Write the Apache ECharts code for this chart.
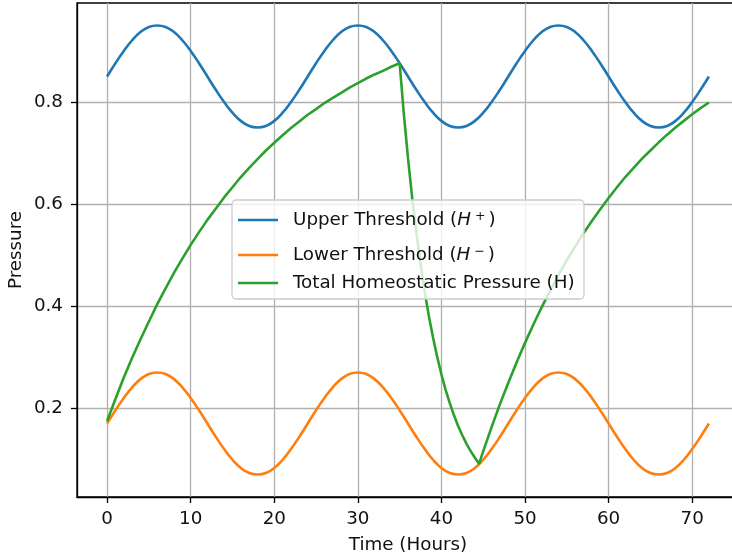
<!DOCTYPE html>
<html>
<head>
<meta charset="utf-8">
<script src="https://cdn.jsdelivr.net/npm/echarts@6/dist/echarts.min.js"></script>
<style>
  html, body { margin: 0; padding: 0; background: #fff; }
  #chart { width: 732px; height: 558px; }
</style>
</head>
<body>
<div id="chart"></div>
<script>
// ---- data ----
const xTicks = [0, 10, 20, 30, 40, 50, 60, 70];
const yTicks = [0.2, 0.4, 0.6, 0.8];

const thresholdHours = [
  0,1,2,3,4,5,6,7,8,9,10,11,12,13,14,15,16,17,18,19,20,21,22,23,
  24,25,26,27,28,29,30,31,32,33,34,35,36,37,38,39,40,41,42,43,44,45,46,47,
  48,49,50,51,52,53,54,55,56,57,58,59,60,61,62,63,64,65,66,67,68,69,70,71,72
];
const upperThreshold = [
  0.850,0.876,0.900,0.921,0.937,0.947,0.950,0.947,0.937,0.921,0.900,0.876,0.850,0.824,0.800,0.779,0.763,0.753,0.750,0.753,0.763,0.779,0.800,0.824,
  0.850,0.876,0.900,0.921,0.937,0.947,0.950,0.947,0.937,0.921,0.900,0.876,0.850,0.824,0.800,0.779,0.763,0.753,0.750,0.753,0.763,0.779,0.800,0.824,
  0.850,0.876,0.900,0.921,0.937,0.947,0.950,0.947,0.937,0.921,0.900,0.876,0.850,0.824,0.800,0.779,0.763,0.753,0.750,0.753,0.763,0.779,0.800,0.824,
  0.850
];
const lowerThreshold = [
  0.170,0.196,0.220,0.241,0.257,0.267,0.270,0.267,0.257,0.241,0.220,0.196,0.170,0.144,0.120,0.099,0.083,0.073,0.070,0.073,0.083,0.099,0.120,0.144,
  0.170,0.196,0.220,0.241,0.257,0.267,0.270,0.267,0.257,0.241,0.220,0.196,0.170,0.144,0.120,0.099,0.083,0.073,0.070,0.073,0.083,0.099,0.120,0.144,
  0.170,0.196,0.220,0.241,0.257,0.267,0.270,0.267,0.257,0.241,0.220,0.196,0.170,0.144,0.120,0.099,0.083,0.073,0.070,0.073,0.083,0.099,0.120,0.144,
  0.170
];
const pressureHours = [
  0,1,2,3,4,5,6,7,8,9,10,11,12,13,14,15,16,17,18,19,20,21,22,23,24,25,26,27,28,29,30,31,32,33,34,35,
  35.5,36,36.5,37,37.5,38,38.5,39,39.5,40,40.5,41,41.5,42,42.5,43,43.5,44,44.5,
  45,46,47,48,49,50,51,52,53,54,55,56,57,58,59,60,61,62,63,64,65,66,67,68,69,70,71,72
];
const totalPressure = [
  0.175,0.218,0.260,0.299,0.335,0.370,0.404,0.435,0.465,0.493,0.520,0.545,0.569,0.591,0.613,0.633,0.653,0.671,
  0.688,0.705,0.720,0.735,0.749,0.762,0.775,0.786,0.798,0.808,0.818,0.828,0.837,0.846,0.854,0.861,0.869,0.876,
  0.777,0.690,0.612,0.544,0.483,0.428,0.380,0.338,0.300,0.266,0.236,0.210,0.186,0.165,0.147,0.130,0.116,0.103,0.091,
  0.116,0.163,0.208,0.250,0.290,0.328,0.364,0.398,0.430,0.461,0.490,0.517,0.543,0.567,0.590,0.612,0.633,0.653,
  0.671,0.689,0.705,0.721,0.736,0.750,0.763,0.776,0.788,0.799
];
const seriesNames = ['Upper Threshold (H+)', 'Lower Threshold (H-)', 'Total Homeostatic Pressure (H)'];
const seriesColors = ['#1f77b4', '#ff7f0e', '#2ca02c'];

// ---- chart ----
const FONT = 'DejaVu Sans';
const FS = 18.3;
const TXT = '#111111';
const pairs = (xs, ys) => xs.map((x, i) => [x, ys[i]]);

const legendRich = {
  f: { fontFamily: FONT, fontSize: FS, color: TXT, padding: [0, 0, 0, 10] },
  t: { fontFamily: FONT, fontSize: FS, color: TXT },
  i: { fontFamily: FONT, fontSize: FS, color: TXT, fontStyle: 'italic', padding: [0, 2, 0, 0] },
  sp: { fontFamily: FONT, fontSize: 12.5, color: TXT, padding: [0, 3, 7, 2] }
};
const legendLabel = {
  [seriesNames[0]]: '{f|Upper Threshold (}{i|H}{sp|+}{t|)}',
  [seriesNames[1]]: '{f|Lower Threshold (}{i|H}{sp|\u2212}{t|)}',
  [seriesNames[2]]: '{f|Total Homeostatic Pressure (H)}'
};
const legendTops = [210, 245, 274];

function makeLegend(k) {
  return {
    show: true,
    data: [seriesNames[k]],
    left: 238,
    top: legendTops[k],
    orient: 'vertical',
    icon: 'rect',
    itemWidth: 40,
    itemHeight: 2.6,
    selectedMode: false,
    padding: 0,
    z: 5,
    formatter: name => legendLabel[name],
    textStyle: { fontFamily: FONT, fontSize: FS, color: TXT, rich: legendRich }
  };
}

const chart = echarts.init(document.getElementById('chart'), null, { renderer: 'canvas' });
chart.setOption({
  animation: false,
  backgroundColor: '#ffffff',
  textStyle: { fontFamily: FONT },
  grid: {
    left: 77, right: -7, top: 3, bottom: 61,
    show: true, borderColor: '#000', borderWidth: 1.3, backgroundColor: 'transparent',
    containLabel: false,
    outerBoundsMode: 'none'
  },
  xAxis: {
    type: 'value',
    min: -3.6, max: 75.6,
    name: 'Time (Hours)',
    nameLocation: 'middle',
    nameGap: 39,
    nameMoveOverlap: false,
    nameTextStyle: { fontFamily: FONT, fontSize: FS, color: TXT },
    axisLine: { show: true, onZero: false, lineStyle: { color: '#000', width: 1.3 } },
    axisTick: { show: true, length: 6, lineStyle: { color: '#000', width: 1.3 }, customValues: xTicks },
    axisLabel: { customValues: xTicks, margin: 13, fontFamily: FONT, fontSize: FS, color: TXT },
    splitLine: { show: true, lineStyle: { color: '#b0b0b0', width: 1.3 } }
  },
  yAxis: {
    type: 'value',
    min: 0.026, max: 0.994,
    name: 'Pressure',
    nameLocation: 'middle',
    nameGap: 52,
    nameMoveOverlap: false,
    nameRotate: 90,
    nameTextStyle: { fontFamily: FONT, fontSize: FS, color: TXT },
    axisLine: { show: true, onZero: false, lineStyle: { color: '#000', width: 1.3 } },
    axisTick: { show: true, length: 6, lineStyle: { color: '#000', width: 1.3 }, customValues: yTicks },
    axisLabel: { customValues: yTicks, margin: 14, fontFamily: FONT, fontSize: FS, color: TXT,
                 formatter: v => v.toFixed(1) },
    splitLine: { show: true, lineStyle: { color: '#b0b0b0', width: 1.3 } }
  },
  legend: [makeLegend(0), makeLegend(1), makeLegend(2)],
  graphic: [{
    type: 'rect',
    z: 3,
    shape: { x: 232, y: 200, width: 352, height: 99, r: 4 },
    style: { fill: 'rgba(255,255,255,0.8)', stroke: '#cccccc', lineWidth: 1.3 }
  }],
  series: [
    { name: seriesNames[0], type: 'line', data: pairs(thresholdHours, upperThreshold), smooth: 0.5,
      symbol: 'none', color: seriesColors[0], lineStyle: { width: 2.6, color: seriesColors[0] }, z: 2 },
    { name: seriesNames[1], type: 'line', data: pairs(thresholdHours, lowerThreshold), smooth: 0.5,
      symbol: 'none', color: seriesColors[1], lineStyle: { width: 2.6, color: seriesColors[1] }, z: 2 },
    { name: seriesNames[2], type: 'line', data: pairs(pressureHours, totalPressure),
      symbol: 'none', color: seriesColors[2], lineStyle: { width: 2.6, color: seriesColors[2] }, z: 2 }
  ]
});
</script>
</body>
</html>
